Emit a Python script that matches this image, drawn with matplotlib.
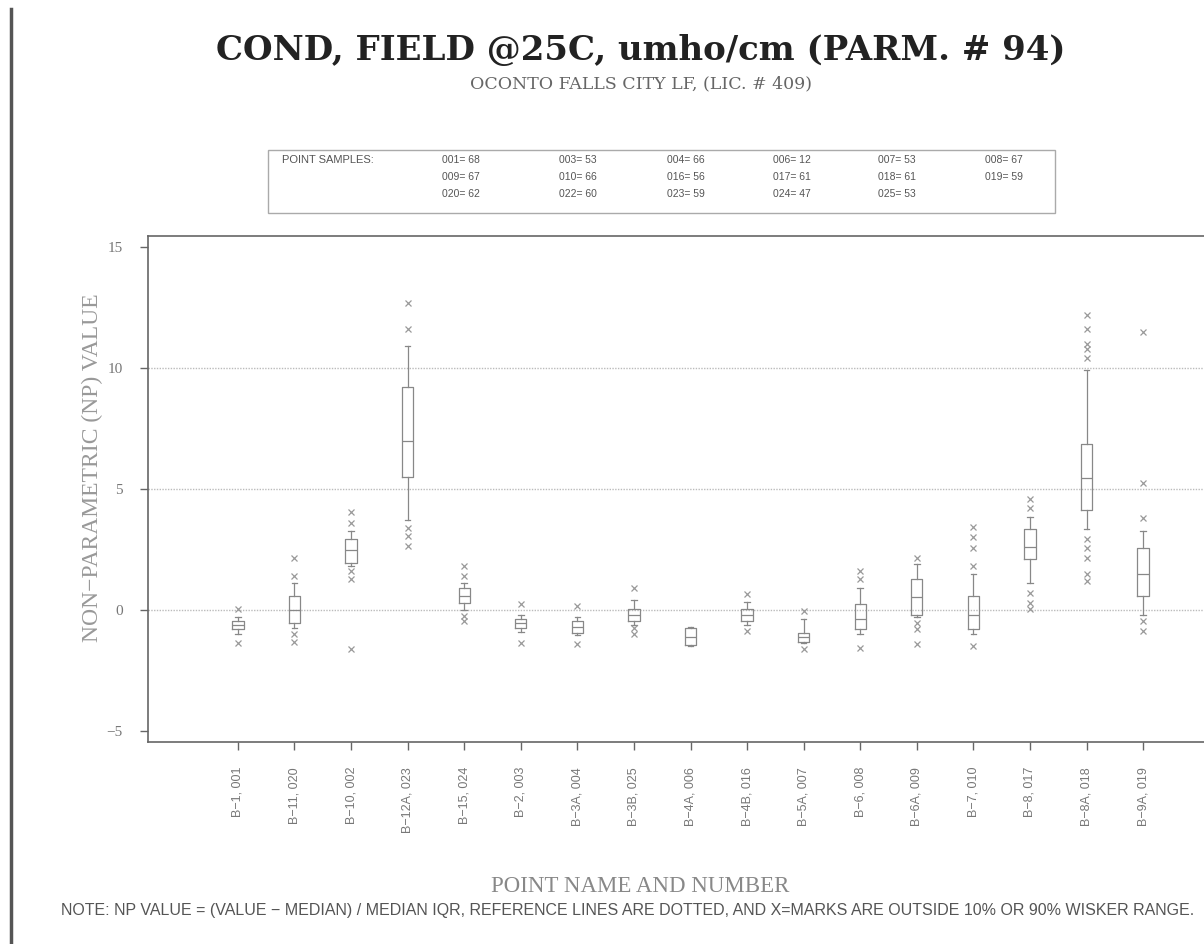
import matplotlib

matplotlib.use("Agg")
import matplotlib.pyplot as plt
from matplotlib.lines import Line2D

# Monitoring points, left to right
POINTS = ["B-1, 001", "B-11, 020", "B-10, 002", "B-12A, 023", "B-15, 024",
          "B-2, 003", "B-3A, 004", "B-3B, 025", "B-4A, 006", "B-4B, 016",
          "B-5A, 007", "B-6, 008", "B-6A, 009", "B-7, 010", "B-8, 017",
          "B-8A, 018", "B-9A, 019"]

# Box statistics (NP values)
Q1 = [-0.8, -0.55, 1.95, 5.5, 0.3, -0.75, -0.95, -0.45, -1.45, -0.45,
      -1.3, -0.8, -0.2, -0.8, 2.1, 4.15, 0.6]
MED = [-0.6, 0.0, 2.5, 7.0, 0.6, -0.55, -0.7, -0.2, -1.1, -0.2,
       -1.1, -0.35, 0.55, -0.2, 2.6, 5.45, 1.5]
Q3 = [-0.45, 0.6, 2.95, 9.2, 0.9, -0.35, -0.45, 0.05, -0.75, 0.05,
      -0.95, 0.25, 1.3, 0.6, 3.35, 6.85, 2.55]
W_LO = [-1.0, -0.75, 1.8, 3.7, 0.0, -0.9, -1.05, -0.6, -1.5, -0.6,
        -1.35, -1.0, -0.3, -1.0, 1.1, 3.35, -0.2]
W_HI = [-0.3, 1.1, 3.25, 10.9, 1.1, -0.2, -0.3, 0.4, -0.7, 0.35,
        -0.35, 0.9, 1.9, 1.5, 3.85, 9.9, 3.25]
# X-marks outside the 10% / 90% whiskers
OUTSIDE = [
    [0.05, -1.35],
    [2.15, 1.4, -1.0, -1.3],
    [4.05, 3.6, 1.6, 1.3, -1.6],
    [11.6, 12.7, 3.4, 3.05, 2.65],
    [1.8, 1.4, -0.25, -0.45],
    [0.25, -1.35],
    [0.15, -1.4],
    [0.9, -0.75, -1.0],
    [],
    [0.65, -0.85],
    [-0.05, -1.6],
    [1.6, 1.3, -1.55],
    [2.15, -0.55, -0.8, -1.4],
    [3.45, 3.0, 2.55, 1.8, -1.5],
    [4.6, 4.2, 0.7, 0.3, 0.05],
    [12.2, 11.6, 11.0, 10.8, 10.4, 2.95, 2.55, 2.15, 1.5, 1.2],
    [11.5, 5.25, 3.8, -0.45, -0.85],
]

REF_LINES = [0, 5, 10]
Y_TICKS = [-5, 0, 5, 10, 15]

# Sample counts per point (legend box), laid out in columns
SAMPLE_COLS = [
    ["001= 68", "009= 67", "020= 62"],
    ["003= 53", "010= 66", "022= 60"],
    ["004= 66", "016= 56", "023= 59"],
    ["006= 12", "017= 61", "024= 47"],
    ["007= 53", "018= 61", "025= 53"],
    ["008= 67", "019= 59"],
]

GRAY = "#777777"
SERIF = ["Liberation Serif", "DejaVu Serif"]
WIDE_SERIF = ["DejaVu Serif"]
NARROW = ["Liberation Sans Narrow", "Liberation Sans", "DejaVu Sans"]

fig = plt.figure(figsize=(12.04, 9.44), dpi=100)
ax = fig.add_axes([0.1229, 0.214, 0.897, 0.536])

stats = []
for i in range(len(POINTS)):
    stats.append(dict(med=MED[i], q1=Q1[i], q3=Q3[i], whislo=W_LO[i],
                      whishi=W_HI[i], fliers=OUTSIDE[i], label=POINTS[i]))

pos = list(range(len(POINTS)))
ax.bxp(stats, positions=pos, widths=0.2, showfliers=True,
       boxprops=dict(color="#888888", lw=0.9),
       medianprops=dict(color="#888888", lw=0.9),
       whiskerprops=dict(color="#888888", lw=0.9),
       capprops=dict(color="#888888", lw=0.9),
       flierprops=dict(marker="x", markersize=4, markeredgecolor="#999999",
                       markeredgewidth=0.9, linestyle="none"))

for y in REF_LINES:
    ax.axhline(y, color="#bbbbbb", lw=1.0, ls=(0, (1, 1)), zorder=0)

ax.set_xlim(-1.59, 17.5)
ax.set_ylim(-5.45, 15.45)
ax.set_yticks(Y_TICKS)
ax.set_yticklabels([str(t).replace("-", "\u2212") for t in Y_TICKS],
                   family=SERIF, fontsize=11, color=GRAY)
ax.set_xticks(pos)
ax.set_xticklabels([p.replace("-", "\u2212") for p in POINTS], rotation=90,
                   family=NARROW, fontsize=9, color=GRAY)
ax.tick_params(axis="both", direction="out", length=6, color="#666666",
               width=1.0)
ax.tick_params(axis="x", pad=12)
ax.tick_params(axis="y", pad=12)
for side in ["left", "bottom", "top"]:
    ax.spines[side].set_color("#666666")
    ax.spines[side].set_linewidth(1.2)
ax.spines["right"].set_visible(False)

fig.text(0.077, 0.505, "NON\u2212PARAMETRIC (NP) VALUE", rotation=90,
         ha="center", va="center", family=SERIF, fontsize=17,
         color="#999999")

# Titles
fig.text(0.532, 0.947, "COND, FIELD @25C, umho/cm (PARM. # 94)",
         ha="center", va="center", family=WIDE_SERIF, fontsize=24.5,
         fontweight="bold", color="#222222")
fig.text(0.532, 0.911, "OCONTO FALLS CITY LF, (LIC. # 409)",
         ha="center", va="center", family=WIDE_SERIF, fontsize=12.5,
         color="#666666")

# Point sample legend box
box = plt.Rectangle((0.2226, 0.774), 0.654, 0.067, transform=fig.transFigure,
                    fill=False, edgecolor="#aaaaaa", lw=1.0)
fig.add_artist(box)
fig.text(0.234, 0.831, "POINT SAMPLES:", ha="left", va="center",
         family=NARROW, fontsize=8, color="#555555")
col_x = [0.367, 0.464, 0.554, 0.642, 0.729, 0.818]
for cx, col in zip(col_x, SAMPLE_COLS):
    for j, entry in enumerate(col):
        fig.text(cx, 0.831 - j * 0.0185, entry, ha="left", va="center",
                 family=NARROW, fontsize=7.5, color="#555555")

# Axis title and note
fig.text(0.532, 0.061, "POINT NAME AND NUMBER", ha="center", va="center",
         family=SERIF, fontsize=16.5, color="#888888")
fig.text(0.521, 0.035,
         "NOTE: NP VALUE = (VALUE \u2212 MEDIAN) / MEDIAN IQR, REFERENCE LINES "
         "ARE DOTTED, AND X=MARKS ARE OUTSIDE 10% OR 90% WISKER RANGE.",
         ha="center", va="center", family=NARROW, fontsize=11.5,
         color="#555555")

# scan edge on the left
fig.add_artist(Line2D([0.0095, 0.0095], [0.0, 0.99], transform=fig.transFigure,
                      color="#555555", lw=2.5))

fig.savefig("out.png", dpi=100, facecolor="white")
